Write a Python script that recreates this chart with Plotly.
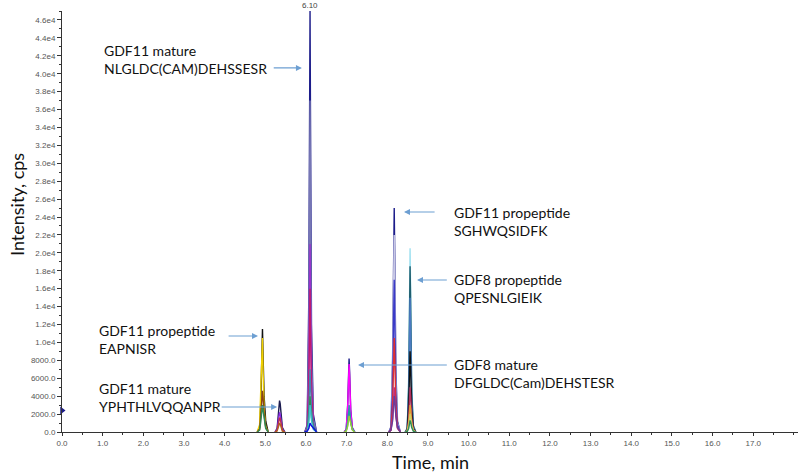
import plotly.graph_objects as go

# axis ticks
x_ticks = [float(i) for i in range(18)]
y_tickvals = list(range(0, 46001, 2000))
y_ticktext = ["0.0", "2000.0", "4000.0", "6000.0", "8000.0"] + \
    ["%.1fe4" % (v / 10000) for v in range(10000, 46001, 2000)]

# retention time grids for each peak cluster (min)
t_a = [4.80, 4.86, 4.89, 4.915, 4.93, 4.945, 4.97, 5.01, 5.07]
t_b = [5.24, 5.29, 5.325, 5.35, 5.365, 5.385, 5.42, 5.48]
t_c = [5.97, 6.03, 6.07, 6.09, 6.10, 6.11, 6.135, 6.18, 6.26]
t_d = [6.94, 6.99, 7.025, 7.045, 7.06, 7.075, 7.10, 7.14, 7.20]
t_e = [8.04, 8.09, 8.13, 8.155, 8.17, 8.185, 8.21, 8.25, 8.32]
t_f = [8.44, 8.49, 8.525, 8.545, 8.56, 8.575, 8.60, 8.64, 8.70]

# XIC intensities (cps), one list per transition, drawn in this order
traces = [
    # cluster at 6.10
    ("#1c1c8a", t_c, [0, 800, 15000, 38000, 47000, 36000, 12000, 2000, 0]),
    ("#7676b4", t_c, [0, 600, 12000, 30000, 37000, 28000, 9000, 1500, 0]),
    ("#9932cc", t_c, [0, 400, 7000, 17000, 21000, 16000, 6000, 900, 0]),
    ("#c0186e", t_c, [0, 300, 5000, 13000, 16000, 12000, 4500, 700, 0]),
    ("#4682b4", t_c, [0, 200, 2500, 6000, 7000, 5500, 2500, 800, 0]),
    ("#2e8b57", t_c, [0, 100, 1500, 3500, 4000, 3200, 1600, 500, 0]),
    ("#40c0d0", t_c, [0, 100, 1000, 2500, 3000, 2600, 1300, 300, 0]),
    ("#1010e0", t_c, [0, 100, 400, 800, 1000, 900, 700, 400, 0]),
    # cluster at 8.17
    ("#1c1c8a", t_e, [0, 600, 8000, 20000, 25000, 19000, 7000, 1200, 0]),
    ("#c8c8e6", t_e, [0, 500, 7000, 18000, 22000, 17000, 6000, 1000, 0]),
    ("#3a3ac8", t_e, [0, 400, 5000, 14000, 17000, 13000, 4500, 800, 0]),
    ("#e03030", t_e, [0, 200, 3000, 8500, 10500, 8000, 3000, 500, 0]),
    ("#c0307a", t_e, [0, 200, 1500, 4000, 5000, 4000, 1800, 400, 0]),
    ("#6a3d9a", t_e, [0, 200, 1200, 3200, 4000, 3500, 1800, 500, 0]),
    # cluster at 8.55
    ("#9ee0f0", t_f, [0, 400, 6000, 16000, 20500, 15000, 5000, 800, 0]),
    ("#1f5f6f", t_f, [0, 400, 5000, 15000, 18500, 14000, 4500, 700, 0]),
    ("#4a7ac0", t_f, [0, 300, 4000, 12000, 15000, 11000, 3500, 500, 0]),
    ("#111111", t_f, [0, 200, 3000, 8000, 9000, 7000, 2500, 400, 0]),
    ("#b03060", t_f, [0, 100, 1500, 4000, 5000, 4000, 1500, 300, 0]),
    ("#e0a030", t_f, [0, 100, 1000, 2500, 3000, 2500, 1000, 200, 0]),
    ("#d0d060", t_f, [0, 100, 700, 1600, 2000, 1700, 800, 200, 0]),
    ("#2e8b57", t_f, [0, 50, 400, 1000, 1300, 1100, 500, 100, 0]),
    # cluster at 4.93
    ("#111111", t_a, [0, 500, 3500, 9000, 11500, 8500, 4000, 1200, 0]),
    ("#f0d000", t_a, [0, 800, 5000, 9800, 10500, 7000, 2500, 600, 0]),
    ("#8b4513", t_a, [0, 300, 2000, 4200, 4600, 3800, 2000, 500, 0]),
    ("#2e8b57", t_a, [0, 200, 1200, 2600, 3000, 2400, 1500, 400, 0]),
    # cluster at 5.35
    ("#1c1c50", t_b, [0, 400, 2200, 3500, 3200, 1800, 500, 0]),
    ("#8a2be2", t_b, [0, 300, 1500, 2200, 2000, 1200, 300, 0]),
    ("#c0304a", t_b, [0, 200, 1000, 1600, 1500, 800, 200, 0]),
    ("#b06020", t_b, [0, 100, 600, 1000, 900, 500, 100, 0]),
    # cluster at 7.05
    ("#1c1c8a", t_d, [0, 300, 3000, 7000, 8200, 6500, 2500, 500, 0]),
    ("#ff00ff", t_d, [0, 300, 2800, 6500, 7600, 6000, 2300, 400, 0]),
    ("#4682b4", t_d, [0, 200, 1200, 2600, 3000, 2500, 1200, 300, 0]),
    ("#20a0a0", t_d, [0, 100, 800, 2000, 2400, 2000, 1000, 300, 0]),
    ("#9acd32", t_d, [0, 100, 600, 1500, 1800, 1500, 900, 200, 0]),
]

apex_label = "6.10"
apex_time = 6.10
apex_height = 47000
marker_level = [2400]

# peptide labels: text, arrow head (t, cps), arrow tail (t, cps), text anchor (t, cps)
labels = [
    ("GDF11 mature<br>NLGLDC(CAM)DEHSSESR", (5.90, 40640), (5.17, 40640), (0.98, 41600)),
    ("GDF11 propeptide<br>EAPNISR", (4.82, 10720), (4.06, 10720), (0.86, 10330)),
    ("GDF11 mature<br>YPHTHLVQQANPR", (5.29, 2790), (3.89, 2790), (0.86, 3850)),
    ("GDF11 propeptide<br>SGHWQSIDFK", (8.41, 24560), (9.20, 24560), (9.60, 23450)),
    ("GDF8 propeptide<br>QPESNLGIEIK", (8.73, 16970), (9.50, 16970), (9.60, 16020)),
    ("GDF8 mature<br>DFGLDC(Cam)DEHSTESR", (7.28, 7480), (9.50, 7480), (9.60, 6530)),
]

fig = go.Figure()

for color, t, y in traces:
    fig.add_trace(go.Scatter(x=t, y=y, mode="lines",
                             line=dict(color=color, width=1.4),
                             showlegend=False, hoverinfo="skip"))

# small marker on the y axis
fig.add_trace(go.Scatter(x=[0], y=marker_level, mode="markers",
                         marker=dict(symbol="triangle-right", size=7, color="#1c1c8a"),
                         cliponaxis=False, showlegend=False, hoverinfo="skip"))

arrow_col = "#6d9fd2"
for text, head, tail, anchor in labels:
    fig.add_annotation(x=head[0], y=head[1], ax=tail[0], ay=tail[1],
                       xref="x", yref="y", axref="x", ayref="y",
                       text="", showarrow=True, arrowhead=2, arrowsize=1,
                       arrowwidth=1.2, arrowcolor=arrow_col)
    fig.add_annotation(x=anchor[0], y=anchor[1], xref="x", yref="y",
                       text=text, showarrow=False, xanchor="left", yanchor="middle",
                       align="left", font=dict(family="Lato", size=14, color="#111"))

fig.add_annotation(x=apex_time, y=apex_height, xref="x", yref="y", text=apex_label,
                   showarrow=False, yanchor="bottom", yshift=-1,
                   font=dict(family="Liberation Sans", size=8, color="#444"))

fig.add_annotation(x=-45 / 736, y=(432 - 205) / 421, xref="paper", yref="paper",
                   xanchor="center", yanchor="middle",
                   text="Intensity, cps", textangle=-90, showarrow=False,
                   font=dict(family="Lato", size=18, color="#111"))
fig.add_annotation(x=(430 - 62) / 736, y=(432 - 462) / 421, xref="paper", yref="paper",
                   xanchor="center", yanchor="middle",
                   text="Time, min", showarrow=False,
                   font=dict(family="Lato", size=18, color="#111"))

fig.update_xaxes(range=[0, 18.1], tickvals=x_ticks, tickformat=".1f",
                 ticks="outside", ticklen=3, tickcolor="#333",
                 minor=dict(dtick=0.5, ticklen=2, ticks="outside", tickcolor="#333"),
                 showline=True, linecolor="#333", linewidth=1,
                 showgrid=False, zeroline=False, automargin=False,
                 tickfont=dict(family="Liberation Sans", size=8, color="#555"))
fig.update_yaxes(range=[0, 47000], tickvals=y_tickvals, ticktext=y_ticktext,
                 ticks="outside", ticklen=4, tickcolor="#333",
                 minor=dict(dtick=1000, ticklen=2, ticks="outside", tickcolor="#333"),
                 showline=True, linecolor="#333", linewidth=1,
                 showgrid=False, zeroline=False, automargin=False,
                 tickfont=dict(family="Liberation Sans", size=8, color="#555"))

fig.update_layout(width=800, height=472, margin=dict(l=62, r=2, t=11, b=40),
                  plot_bgcolor="white", paper_bgcolor="white")

# the page body has a default margin; drop it so the chart sits at the corner
fig.write_html("out.html", config={"displayModeBar": False},
               post_script="document.body.style.margin='0';")
